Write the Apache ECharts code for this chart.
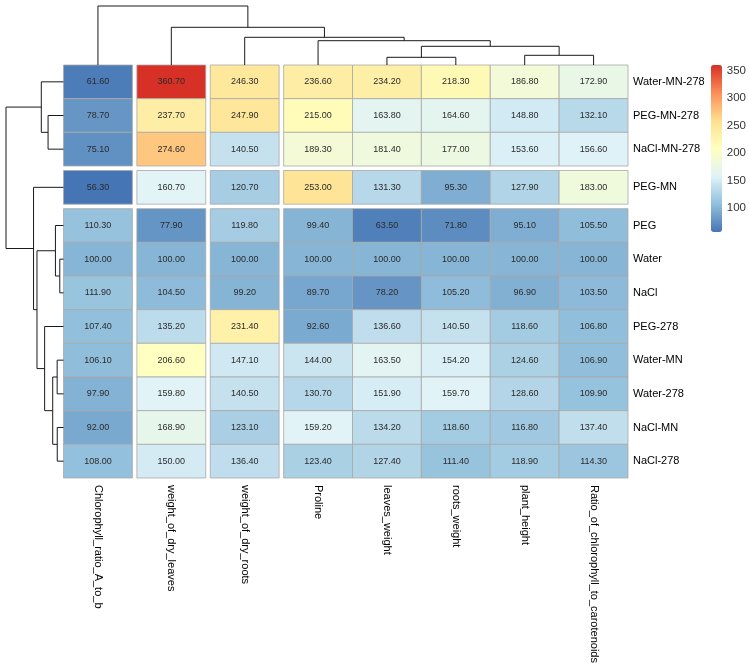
<!DOCTYPE html>
<html>
<head>
<meta charset="utf-8">
<script src="https://cdn.jsdelivr.net/npm/echarts@6/dist/echarts.min.js"></script>
<style>
html, body { margin: 0; padding: 0; background: #fff; }
#chart { width: 749px; height: 670px; }
</style>
</head>
<body>
<div id="chart"></div>
<script>
// rows and columns in the clustered (displayed) order
var rowNames = ['Water-MN-278', 'PEG-MN-278', 'NaCl-MN-278', 'PEG-MN', 'PEG', 'Water', 'NaCl',
    'PEG-278', 'Water-MN', 'Water-278', 'NaCl-MN', 'NaCl-278'];
var colNames = ['Chlorophyll_ratio_A_to_b', 'weight_of_dry_leaves', 'weight_of_dry_roots', 'Proline',
    'leaves_weight', 'roots_weight', 'plant_height', 'Ratio_of_chlorophyll_to_carotenoids'];

// one array per row, columns in colNames order
var waterMN278 = [61.6, 360.7, 246.3, 236.6, 234.2, 218.3, 186.8, 172.9];
var pegMN278 = [78.7, 237.7, 247.9, 215.0, 163.8, 164.6, 148.8, 132.1];
var naclMN278 = [75.1, 274.6, 140.5, 189.3, 181.4, 177.0, 153.6, 156.6];
var pegMN = [56.3, 160.7, 120.7, 253.0, 131.3, 95.3, 127.9, 183.0];
var peg = [110.3, 77.9, 119.8, 99.4, 63.5, 71.8, 95.1, 105.5];
var water = [100.0, 100.0, 100.0, 100.0, 100.0, 100.0, 100.0, 100.0];
var nacl = [111.9, 104.5, 99.2, 89.7, 78.2, 105.2, 96.9, 103.5];
var peg278 = [107.4, 135.2, 231.4, 92.6, 136.6, 140.5, 118.6, 106.8];
var waterMN = [106.1, 206.6, 147.1, 144.0, 163.5, 154.2, 124.6, 106.9];
var water278 = [97.9, 159.8, 140.5, 130.7, 151.9, 159.7, 128.6, 109.9];
var naclMN = [92.0, 168.9, 123.1, 159.2, 134.2, 118.6, 116.8, 137.4];
var nacl278 = [108.0, 150.0, 136.4, 123.4, 127.4, 111.4, 118.9, 114.3];
var rows = [waterMN278, pegMN278, naclMN278, pegMN, peg, water, nacl, peg278, waterMN, water278, naclMN, nacl278];

// hclust style merges (negative = leaf, positive = earlier merge) and heights
var colMerges = [[-5, -6], [-7, -8], [1, 2], [-4, 3], [-3, 4], [-2, 5], [-1, 6]];
var colHeights = [7.7, 9.7, 18.7, 24.3, 27.7, 37.7, 59];
var rowMerges = [[-6, -7], [-5, 1], [-9, -10], [-11, -12], [3, 4], [-8, 5], [2, 6], [-2, -3], [-1, 8], [-4, 7], [9, 10]];
var rowHeights = [3.7, 8, 6.3, 6.2, 10.7, 18.7, 26.3, 15.3, 22, 29.7, 57];

// cutree gaps (after these indices)
var colGapsAfter = [0, 1, 2];
var rowGapsAfter = [2, 3];

var legendTicks = [100, 150, 200, 250, 300, 350];
var palette = ['#4575B4', '#91BFDB', '#E0F3F8', '#FFFFBF', '#FEE090', '#FC8D59', '#D73027'];

// layout
var HX = 63.5, HY = 65, HW = 564.5, HH = 413, gapPx = 4.5;
var cellW = (HW - colGapsAfter.length * gapPx) / colNames.length;
var cellH = (HH - rowGapsAfter.length * gapPx) / rowNames.length;
var gx = gapPx / cellW, gy = gapPx / cellH;
var xMax = colNames.length + colGapsAfter.length * gx;
var yMax = rowNames.length + rowGapsAfter.length * gy;

function colPos(c) {
    return c + gx * colGapsAfter.filter(function (g) { return g < c; }).length;
}
function rowPos(r) {
    return r + gy * rowGapsAfter.filter(function (g) { return g < r; }).length;
}

var cells = [];
var allVals = [];
rows.forEach(function (vals, r) {
    vals.forEach(function (v, c) {
        cells.push([colPos(c), rowPos(r), v]);
        allVals.push(v);
    });
});
var vMin = Math.min.apply(null, allVals);
var vMax = Math.max.apply(null, allVals);

function dendroSegments(merges, heights, leafPos) {
    var nodePos = [];
    var segs = [];
    merges.forEach(function (m, i) {
        var a = m[0] < 0 ? leafPos(-m[0] - 1) : nodePos[m[0] - 1];
        var b = m[1] < 0 ? leafPos(-m[1] - 1) : nodePos[m[1] - 1];
        var ha = m[0] < 0 ? 0 : heights[m[0] - 1];
        var hb = m[1] < 0 ? 0 : heights[m[1] - 1];
        nodePos[i] = (a + b) / 2;
        segs.push([a, ha, b, hb, heights[i]]);
    });
    return segs;
}
var colSegs = dendroSegments(colMerges, colHeights, function (i) { return colPos(i) + 0.5; });
var rowSegs = dendroSegments(rowMerges, rowHeights, function (i) { return rowPos(i) + 0.5; });

var font = 'Liberation Sans, Arial, Helvetica, sans-serif';
var lineColor = '#1a1a1a';

var chart = echarts.init(document.getElementById('chart'));
chart.setOption({
    backgroundColor: '#fff',
    animation: false,
    grid: [
        {left: HX, top: HY, width: HW, height: HH},
        {left: HX, top: 6, width: HW, height: HY - 6},
        {left: 6, top: HY, width: HX - 6, height: HH},
        {left: 711, top: 65, width: 11, height: 167}
    ],
    xAxis: [
        {gridIndex: 0, type: 'value', min: 0, max: xMax, show: false},
        {gridIndex: 1, type: 'value', min: 0, max: xMax, show: false},
        {gridIndex: 2, type: 'value', min: 0, max: Math.max.apply(null, rowHeights), inverse: true, show: false},
        {gridIndex: 3, type: 'value', min: 0, max: 1, show: false}
    ],
    yAxis: [
        {gridIndex: 0, type: 'value', min: 0, max: yMax, inverse: true, show: false},
        {gridIndex: 1, type: 'value', min: 0, max: Math.max.apply(null, colHeights), show: false},
        {gridIndex: 2, type: 'value', min: 0, max: yMax, inverse: true, show: false},
        {
            gridIndex: 3, type: 'value', min: vMin, max: vMax, position: 'right', splitNumber: 6,
            axisLine: {show: false}, axisTick: {show: false}, splitLine: {show: false},
            axisLabel: {
                margin: 5, fontSize: 11.5, fontFamily: font, color: '#333',
                showMinLabel: false, showMaxLabel: false,
                formatter: function (v) { return legendTicks.indexOf(Math.round(v * 100) / 100) >= 0 ? String(v) : ''; }
            }
        }
    ],
    visualMap: {
        type: 'continuous', min: vMin, max: vMax, seriesIndex: 0, dimension: 2,
        calculable: false, hoverLink: false, left: 711, top: 65, padding: 0,
        itemWidth: 11, itemHeight: 167, text: null, showLabel: false,
        inRange: {color: palette}
    },
    series: [
        {
            type: 'custom', xAxisIndex: 0, yAxisIndex: 0,
            encode: {x: 0, y: 1},
            data: cells,
            renderItem: function (params, api) {
                var x = api.value(0), y = api.value(1);
                var p0 = api.coord([x, y]);
                var p1 = api.coord([x + 1, y + 1]);
                var rx = Math.min(p0[0], p1[0]), ry = Math.min(p0[1], p1[1]);
                var w = Math.abs(p1[0] - p0[0]), h = Math.abs(p1[1] - p0[1]);
                return {
                    type: 'group',
                    children: [
                        {
                            type: 'rect',
                            shape: {x: rx, y: ry, width: w, height: h},
                            style: {fill: api.visual('color'), stroke: '#a8a8a8', lineWidth: 0.8}
                        },
                        {
                            type: 'text', x: rx + w / 2, y: ry + h / 2,
                            style: {
                                text: api.value(2).toFixed(2), fill: '#2b2b2b',
                                fontSize: 9, fontFamily: font, align: 'center', verticalAlign: 'middle'
                            }
                        }
                    ]
                };
            }
        },
        {
            type: 'custom', xAxisIndex: 0, yAxisIndex: 0,
            data: rowNames.map(function (n, i) { return [xMax, rowPos(i) + 0.5, i]; }),
            renderItem: function (params, api) {
                var p = api.coord([api.value(0), api.value(1)]);
                return {
                    type: 'text', x: p[0] + 5, y: p[1],
                    style: {
                        text: rowNames[api.value(2)], fill: '#000', fontSize: 11, fontFamily: font,
                        align: 'left', verticalAlign: 'middle'
                    }
                };
            }
        },
        {
            type: 'custom', xAxisIndex: 0, yAxisIndex: 0,
            data: colNames.map(function (n, i) { return [colPos(i) + 0.5, yMax, i]; }),
            renderItem: function (params, api) {
                var p = api.coord([api.value(0), api.value(1)]);
                return {
                    type: 'text', x: p[0], y: p[1] + 7, rotation: -Math.PI / 2,
                    style: {
                        text: colNames[api.value(2)], fill: '#000', fontSize: 11, fontFamily: font,
                        align: 'left', verticalAlign: 'middle'
                    }
                };
            }
        },
        {
            type: 'custom', xAxisIndex: 1, yAxisIndex: 1,
            data: colSegs,
            renderItem: function (params, api) {
                var a = api.coord([api.value(0), api.value(1)]);
                var a2 = api.coord([api.value(0), api.value(4)]);
                var b2 = api.coord([api.value(2), api.value(4)]);
                var b = api.coord([api.value(2), api.value(3)]);
                return {
                    type: 'polyline', shape: {points: [a, a2, b2, b]},
                    style: {stroke: lineColor, lineWidth: 1, fill: null}
                };
            }
        },
        {
            type: 'custom', xAxisIndex: 2, yAxisIndex: 2,
            data: rowSegs,
            renderItem: function (params, api) {
                var a = api.coord([api.value(1), api.value(0)]);
                var a2 = api.coord([api.value(4), api.value(0)]);
                var b2 = api.coord([api.value(4), api.value(2)]);
                var b = api.coord([api.value(3), api.value(2)]);
                return {
                    type: 'polyline', shape: {points: [a, a2, b2, b]},
                    style: {stroke: lineColor, lineWidth: 1, fill: null}
                };
            }
        }
    ]
});
</script>
</body>
</html>
